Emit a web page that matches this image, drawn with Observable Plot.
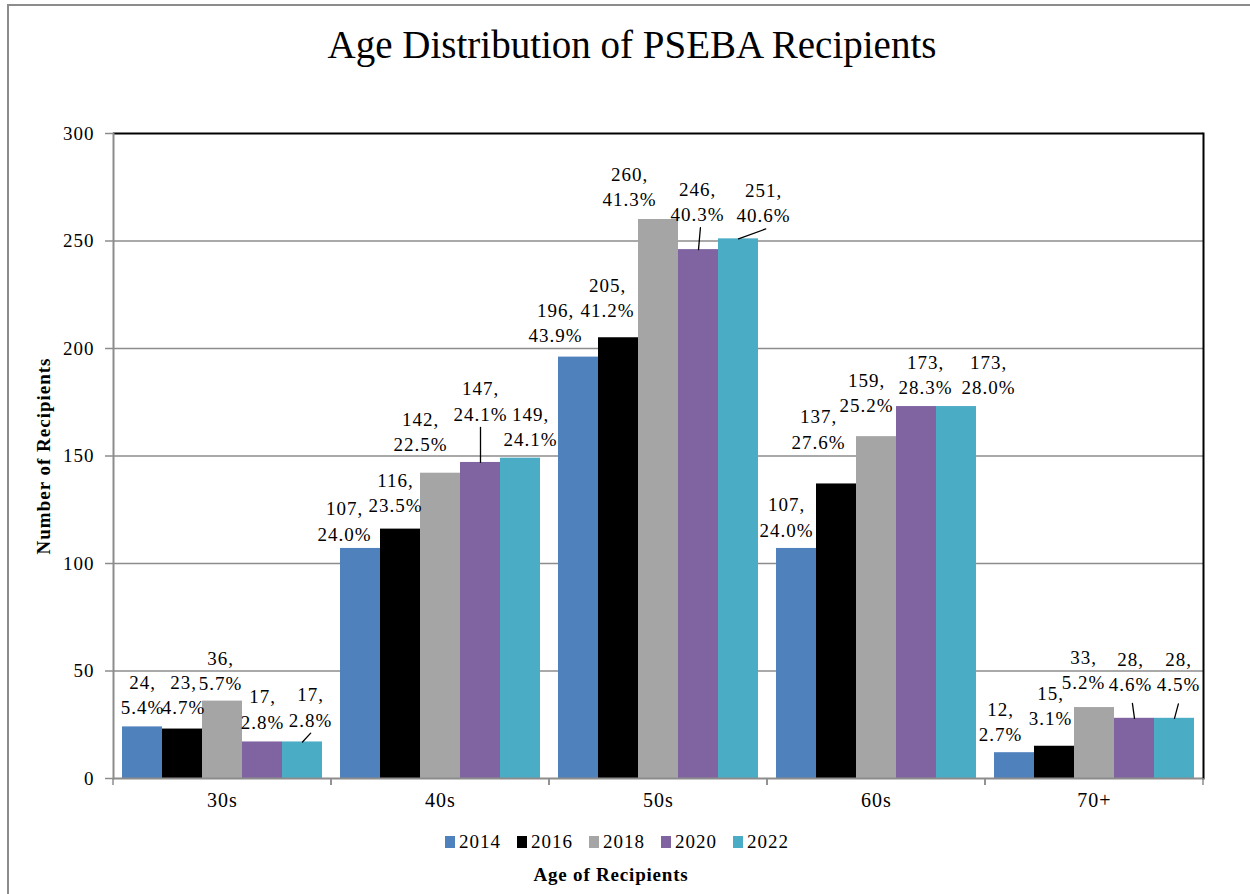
<!DOCTYPE html>
<html>
<head>
<meta charset="utf-8">
<script src="https://cdn.jsdelivr.net/npm/d3@7"></script>
<script src="https://cdn.jsdelivr.net/npm/@observablehq/plot@0.6"></script>
<style>
  html, body { margin: 0; padding: 0; background: #fff; }
  #chart { position: relative; width: 1250px; height: 894px; overflow: hidden;
           font-family: "Liberation Serif", "Times New Roman", serif; color: #000; }
  #border { position: absolute; left: 7px; top: 4px; width: 1400px; height: 1000px;
            border-left: 2px solid #8c8c8c; border-top: 2px solid #8c8c8c; }
  #title { position: absolute; left: 7px; width: 1250px; top: 20px; text-align: center;
           font-size: 39px; line-height: 50px; }
  #plot { position: absolute; left: 0; top: 100px; }
  #plot svg text { letter-spacing: 1px; }
  #plot g[aria-label="data-label"] text { letter-spacing: 1px; }
  #plot g[aria-label="y-axis label"] text { font-weight: bold; letter-spacing: 1px; font-size: 19px; }
  #legend { position: absolute; left: 0; width: 1250px; top: 825px; display: flex; justify-content: center; }
  #legend [class$="-swatch"] { margin-right: 16px !important; }
  #legend [class$="-swatch"] > svg { margin-right: 4px !important; }
  #legend [class$="-swatches"] { margin-left: 0 !important; }
  #xtitle { position: absolute; left: 0; width: 1222px; top: 862px; text-align: center;
            font-weight: bold; font-size: 19px; letter-spacing: 0.8px; line-height: 26px; }
</style>
</head>
<body>
<div id="chart">
  <div id="border"></div>
  <div id="title">Age Distribution of PSEBA Recipients</div>
  <div id="plot"></div>
  <div id="legend"></div>
  <div id="xtitle">Age of Recipients</div>
</div>
<script>
// ---------- data ----------
const ageGroups = ["30s", "40s", "50s", "60s", "70+"];
const years = ["2014", "2016", "2018", "2020", "2022"];
const counts2014 = [24, 107, 196, 107, 12];
const counts2016 = [23, 116, 205, 137, 15];
const counts2018 = [36, 142, 260, 159, 33];
const counts2020 = [17, 147, 246, 173, 28];
const counts2022 = [17, 149, 251, 173, 28];
const pct2014 = [5.4, 24.0, 43.9, 24.0, 2.7];
const pct2016 = [4.7, 23.5, 41.2, 27.6, 3.1];
const pct2018 = [5.7, 22.5, 41.3, 25.2, 5.2];
const pct2020 = [2.8, 24.1, 40.3, 28.3, 4.6];
const pct2022 = [2.8, 24.1, 40.6, 28.0, 4.5];
const yTicks = [0, 50, 100, 150, 200, 250, 300];
const seriesColors = ["#4F81BD", "#000000", "#A5A5A5", "#8064A2", "#4BACC6"];

// ---------- label layout (pixel nudges, as placed in the original) ----------
const labelDx = {
  "2014": [0, -16, -23, -10, -14],
  "2016": [1, -5, -11, -18, -4],
  "2018": [-2, -20, -29, -10, -11],
  "2020": [0, 0, -1, 9, -4],
  "2022": [8, 10, 25, 32, 4]
};
const labelDy = {
  "2014": [-33.5, -28.5, -36, -32.5, -32.5],
  "2016": [-36, -38, -41.5, -56, -41.5],
  "2018": [-31.5, -43, -34.5, -45.5, -39.5],
  "2020": [-34, -62.5, -49.5, -33.5, -47.5],
  "2022": [-36, -33, -37.5, -33.5, -47.5]
};
const leaderAge = ["30s", "40s", "50s", "50s", "70+", "70+"];
const leaderYear = ["2022", "2020", "2020", "2022", "2020", "2022"];
const leaderLength = [12, 35, 22, 29, 15, 15];
const leaderAngle = [43, 0, 5, 70, -8, 15];

// ---------- build tables ----------
const countsByYear = {"2014": counts2014, "2016": counts2016, "2018": counts2018, "2020": counts2020, "2022": counts2022};
const pctByYear = {"2014": pct2014, "2016": pct2016, "2018": pct2018, "2020": pct2020, "2022": pct2022};
const rows = [];
ageGroups.forEach((age, i) => years.forEach(year => {
  rows.push({age, year, value: countsByYear[year][i], pct: pctByYear[year][i], i});
}));
const leaderRows = leaderAge.map((age, k) => {
  const year = leaderYear[k];
  return {age, year, value: countsByYear[year][ageGroups.indexOf(age)], length: leaderLength[k], angle: leaderAngle[k]};
});

const gray = "#8c8c8c";

// boundary ticks under the category axis (at each facet edge)
function boundaryTicks(index, scales, values, dimensions) {
  const [x0, x1] = scales.x.range();
  const y0 = scales.y(0);
  const g = d3.create("svg:g").attr("stroke", gray).attr("stroke-width", 1.5);
  for (const x of [x0, x1]) {
    g.append("line").attr("x1", x).attr("x2", x).attr("y1", y0).attr("y2", y0 + 7);
  }
  return g.node();
}

const leaderShape = {draw(context, l) { context.moveTo(0, 0); context.lineTo(0, -l); }};

const labelMarks = rows.map(d => Plot.text([d], {
  fx: "age", x: "year", y: "value",
  text: r => `${r.value},\n${r.pct.toFixed(1)}%`,
  lineAnchor: "middle", lineHeight: 1.32, fontSize: 19, fill: "#000",
  dx: labelDx[d.year][d.i], dy: labelDy[d.year][d.i],
  ariaLabel: "data-label"
}));

const chart = Plot.plot({
  width: 1250, height: 740,
  marginTop: 33, marginBottom: 62, marginLeft: 113, marginRight: 47,
  style: {fontFamily: "'Liberation Serif', 'Times New Roman', serif", fontSize: "19px", color: "#000", background: "transparent"},
  fx: {domain: ageGroups, padding: 0, label: null},
  x: {domain: years, paddingInner: 0, paddingOuter: 0.225, axis: null},
  y: {domain: [0, 300]},
  color: {domain: years, range: seriesColors},
  length: {type: "identity"},
  marks: [
    Plot.gridY(yTicks.filter(t => t > 0 && t < 300), {stroke: gray, strokeOpacity: 1, strokeWidth: 1.4}),
    Plot.barY(rows, {fx: "age", x: "year", y: "value", fill: "year"}),
    Plot.ruleY([300], {stroke: "#000", strokeWidth: 2}),
    Plot.ruleY([0], {stroke: gray, strokeWidth: 2}),
    Plot.frame({anchor: "right", stroke: "#000", strokeWidth: 2, facetAnchor: "right"}),
    Plot.frame({anchor: "left", stroke: gray, strokeWidth: 2, facetAnchor: "left"}),
    boundaryTicks,
    Plot.axisY({ticks: yTicks, tickSize: 8, tickPadding: 11, stroke: gray, strokeWidth: 1.5, fontSize: 19,
                label: "Number of Recipients", labelAnchor: "center", labelOffset: 77, labelArrow: "none"}),
    Plot.axisFx({anchor: "bottom", tickSize: 0, tickPadding: 14, label: null, fontSize: 20}),
    Plot.vector(leaderRows, {fx: "age", x: "year", y: "value", length: "length", rotate: "angle",
                             anchor: "start", stroke: "#000", strokeWidth: 1.3, shape: leaderShape}),
    ...labelMarks
  ]
});
document.getElementById("plot").appendChild(chart);

const legend = Plot.legend({
  color: {domain: years, range: seriesColors},
  legend: "swatches", swatchWidth: 10, swatchHeight: 12,
  style: {fontFamily: "'Liberation Serif', 'Times New Roman', serif", fontSize: "19px", letterSpacing: "1px", color: "#000"}
});
document.getElementById("legend").appendChild(legend);
</script>
</body>
</html>
